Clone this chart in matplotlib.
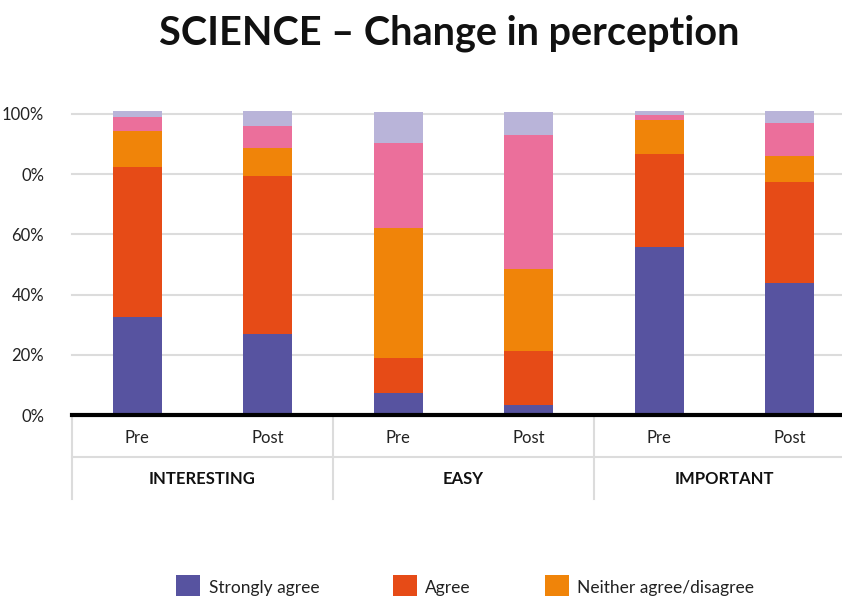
import matplotlib
matplotlib.use('Agg')
import matplotlib.pyplot as plt
import numpy as np
from matplotlib.patches import Patch

plt.rcParams['font.family'] = ['Lato', 'DejaVu Sans']

# survey shares per bar (percent), bars ordered Interesting Pre/Post, Easy Pre/Post, Important Pre/Post
groups = ['INTERESTING', 'EASY', 'IMPORTANT']
phases = ['Pre', 'Post', 'Pre', 'Post', 'Pre', 'Post']
strongly_agree = [32.7, 27.0, 7.3, 3.3, 55.8, 43.8]
agree = [49.6, 52.3, 11.8, 18.1, 30.9, 33.5]
neither = [12.0, 9.4, 42.9, 27.0, 11.3, 8.7]
disagree = [4.7, 7.3, 28.4, 44.7, 1.8, 11.0]
strongly_disagree = [2.0, 5.0, 10.3, 7.6, 1.2, 4.0]

series = [
    ('Strongly agree', strongly_agree, '#5753A0'),
    ('Agree', agree, '#E64B17'),
    ('Neither agree/disagree', neither, '#F08409'),
    ('Disagree', disagree, '#EB6F9B'),
    ('Strongly disagree', strongly_disagree, '#B9B4D9'),
]

ytick_vals = [0, 20, 40, 60, 80, 100]
ytick_labels = ['0%', '20%', '40%', '60%', '0%', '100%']

W, H = 842, 596
fig = plt.figure(figsize=(W / 100, H / 100), dpi=100)
# axes run off the right edge so the last group cell is cut like a wide table
ax = fig.add_axes([72 / W, (H - 415) / H, 783 / W, 301 / H])

x = np.arange(len(phases))
bottom = np.zeros(len(phases))
for name, vals, color in series:
    vals = np.array(vals)
    ax.bar(x, vals, width=0.375, bottom=bottom, color=color, label=name,
           zorder=3, clip_on=False)
    bottom += vals

ax.set_xlim(-0.5, 5.5)
ax.set_ylim(0, 100)
ax.set_yticks(ytick_vals)
ax.set_yticklabels(ytick_labels, fontsize=12, color='#222222')
ax.tick_params(axis='y', length=0, pad=20)
ax.tick_params(axis='x', length=0, labelbottom=False)
for v in ytick_vals[1:]:
    ax.axhline(v, color='#DCDCDC', lw=1.5, zorder=1, clip_on=False)
for s in ['top', 'right', 'left']:
    ax.spines[s].set_visible(False)
ax.spines['bottom'].set_linewidth(3)
ax.spines['bottom'].set_color('black')
ax.spines['bottom'].set_zorder(5)

# category table under the bars
tr = ax.get_xaxis_transform()
row_line = -42 / 301
table_bottom = -84 / 301
ax.plot([-0.5, 6], [row_line, row_line], transform=tr, color='#DCDCDC',
        lw=1.5, clip_on=False)
for xb in [-0.5, 1.5, 3.5]:
    ax.plot([xb, xb], [0, table_bottom], transform=tr, color='#DCDCDC',
            lw=1.5, clip_on=False)
for xi, p in zip(x, phases):
    ax.text(xi, -23 / 301, p, transform=tr, ha='center', va='center',
            fontsize=12, color='#222222')
for gi, g in enumerate(groups):
    ax.text(gi * 2 + 0.5, -64 / 301, g, transform=tr, ha='center', va='center',
            fontsize=12, fontweight='bold', color='#111111')

fig.text(449 / W, 1 - 33 / H, 'SCIENCE – Change in perception', ha='center',
         va='center', fontsize=28.5, fontweight='bold', color='#111111')

# legend in two rows; the second row falls below the canvas
order = [0, 4, 1, 3, 2]
handles = [Patch(facecolor=series[i][2], label=series[i][0]) for i in order]
fig.legend(handles=handles, loc='upper left', ncol=3,
           bbox_to_anchor=(176 / W, 1 - 575 / H), frameon=False,
           fontsize=12.5, handlelength=1.38, handleheight=1.75,
           handletextpad=0.5, columnspacing=3.0, borderpad=0,
           borderaxespad=0, labelcolor='#222222')

fig.savefig('out.png', dpi=100)
